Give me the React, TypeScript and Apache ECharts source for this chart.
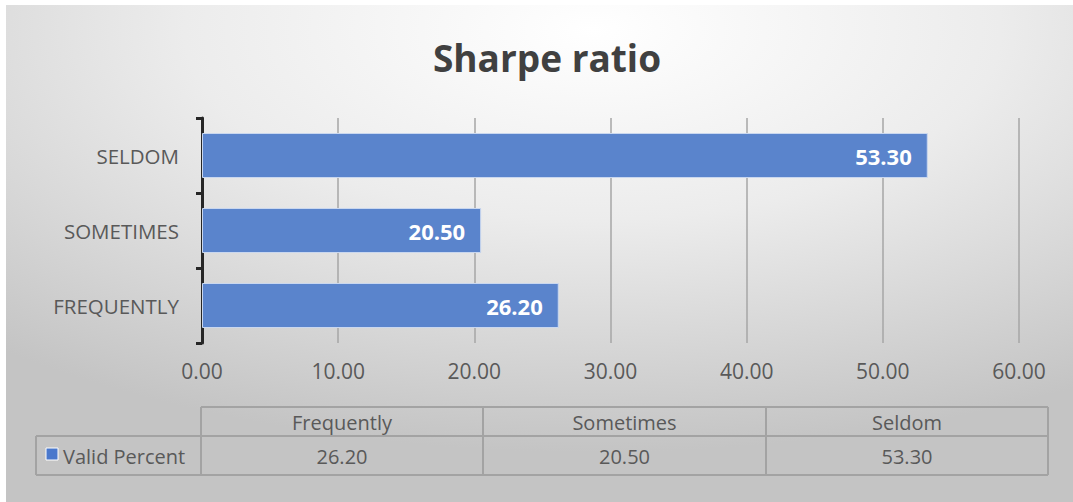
import React, { useEffect, useRef } from "react";
import * as echarts from "echarts";

const categories = ["FREQUENTLY", "SOMETIMES", "SELDOM"];
const tableHeaders = ["Frequently", "Sometimes", "Seldom"];
const validPercent = [26.2, 20.5, 53.3];
const seriesName = "Valid Percent";
const xTicks = { min: 0, max: 60, interval: 10 };
const title = "Sharpe ratio";

const FONT = "'Open Sans', sans-serif";
const TXT = "#595959";

export default function App() {
  const ref = useRef<HTMLDivElement>(null);
  useEffect(() => {
    if (!ref.current) return;
    const chart = echarts.init(ref.current, undefined, { renderer: "svg" });

    const colX = [201, 483, 766, 1048];
    const headerLeft = 36;
    const rowY = [407, 436, 475];
    const lineStyle = { stroke: "#a3a3a3", lineWidth: 2 };
    const g: any[] = [
      {
        type: "rect",
        z: -100,
        silent: true,
        shape: { x: 6, y: 5, width: 1067, height: 497 },
        style: {
          fill: new echarts.graphic.RadialGradient(0.55, 0.05, 0.85, [
            { offset: 0, color: "#ffffff" },
            { offset: 0.45, color: "#ececec" },
            { offset: 1, color: "#c4c4c4" },
          ]),
        },
      },
      { type: "line", shape: { x1: colX[0], y1: rowY[0], x2: colX[3], y2: rowY[0] }, style: lineStyle },
      { type: "line", shape: { x1: headerLeft, y1: rowY[1], x2: colX[3], y2: rowY[1] }, style: lineStyle },
      { type: "line", shape: { x1: headerLeft, y1: rowY[2], x2: colX[3], y2: rowY[2] }, style: lineStyle },
      { type: "line", shape: { x1: headerLeft, y1: rowY[1], x2: headerLeft, y2: rowY[2] }, style: lineStyle },
    ];
    colX.forEach((x) => {
      g.push({ type: "line", shape: { x1: x, y1: rowY[0], x2: x, y2: rowY[2] }, style: lineStyle });
    });
    tableHeaders.forEach((h, i) => {
      g.push({
        type: "text",
        style: {
          text: h,
          x: (colX[i] + colX[i + 1]) / 2,
          y: (rowY[0] + rowY[1]) / 2 + 1,
          align: "center",
          verticalAlign: "middle",
          fill: TXT,
          font: `20px ${FONT}`,
        },
      });
      g.push({
        type: "text",
        style: {
          text: validPercent[i].toFixed(2),
          x: (colX[i] + colX[i + 1]) / 2,
          y: (rowY[1] + rowY[2]) / 2 + 1,
          align: "center",
          verticalAlign: "middle",
          fill: TXT,
          font: `20px ${FONT}`,
        },
      });
    });
    g.push({
      type: "rect",
      shape: { x: 46, y: 448, width: 12, height: 12 },
      style: { fill: "#4a78cc", stroke: "#ffffff", lineWidth: 1 },
    });
    g.push({
      type: "text",
      style: {
        text: seriesName,
        x: 63,
        y: (rowY[1] + rowY[2]) / 2 + 1,
        align: "left",
        verticalAlign: "middle",
        fill: TXT,
        font: `20px ${FONT}`,
      },
    });

    chart.setOption({
      animation: false,
      backgroundColor: "#ffffff",
      title: {
        text: title,
        left: 542,
        textAlign: "center",
        top: 34,
        textStyle: { fontFamily: FONT, fontSize: 37, fontWeight: "bold", color: "#404040" },
      },
      grid: { left: 202, right: 54, top: 118, height: 225, containLabel: false },
      xAxis: {
        type: "value",
        min: xTicks.min,
        max: xTicks.max,
        interval: xTicks.interval,
        axisLine: { show: false },
        axisTick: { show: false },
        axisLabel: {
          formatter: (v: number) => v.toFixed(2),
          color: TXT,
          fontFamily: FONT,
          fontSize: 21,
          margin: 17,
        },
        splitLine: { show: true, lineStyle: { color: "#a6a6a6", width: 1.5 } },
      },
      yAxis: {
        type: "category",
        data: categories,
        axisLine: { show: true, lineStyle: { color: "#262626", width: 3 } },
        axisTick: { show: true, inside: false, length: 6, lineStyle: { color: "#262626", width: 3 } },
        axisLabel: { color: TXT, fontFamily: FONT, fontSize: 20.5, margin: 23 },
        splitLine: { show: false },
      },
      series: [
        {
          type: "bar",
          name: seriesName,
          data: validPercent,
          barCategoryGap: "40%",
          itemStyle: { color: "#5a84cc", borderColor: "#c9d7ef", borderWidth: 1 },
          label: {
            show: true,
            position: "insideRight",
            distance: 16,
            formatter: (p: any) => Number(p.value).toFixed(2),
            color: "#ffffff",
            fontFamily: FONT,
            fontWeight: "bold",
            fontSize: 22,
          },
        },
      ],
      graphic: g,
    });
    return () => chart.dispose();
  }, []);
  return (
    <div
      ref={ref}
      style={{ position: "fixed", left: 0, top: 0, width: 1073, height: 502 }}
    />
  );
}
